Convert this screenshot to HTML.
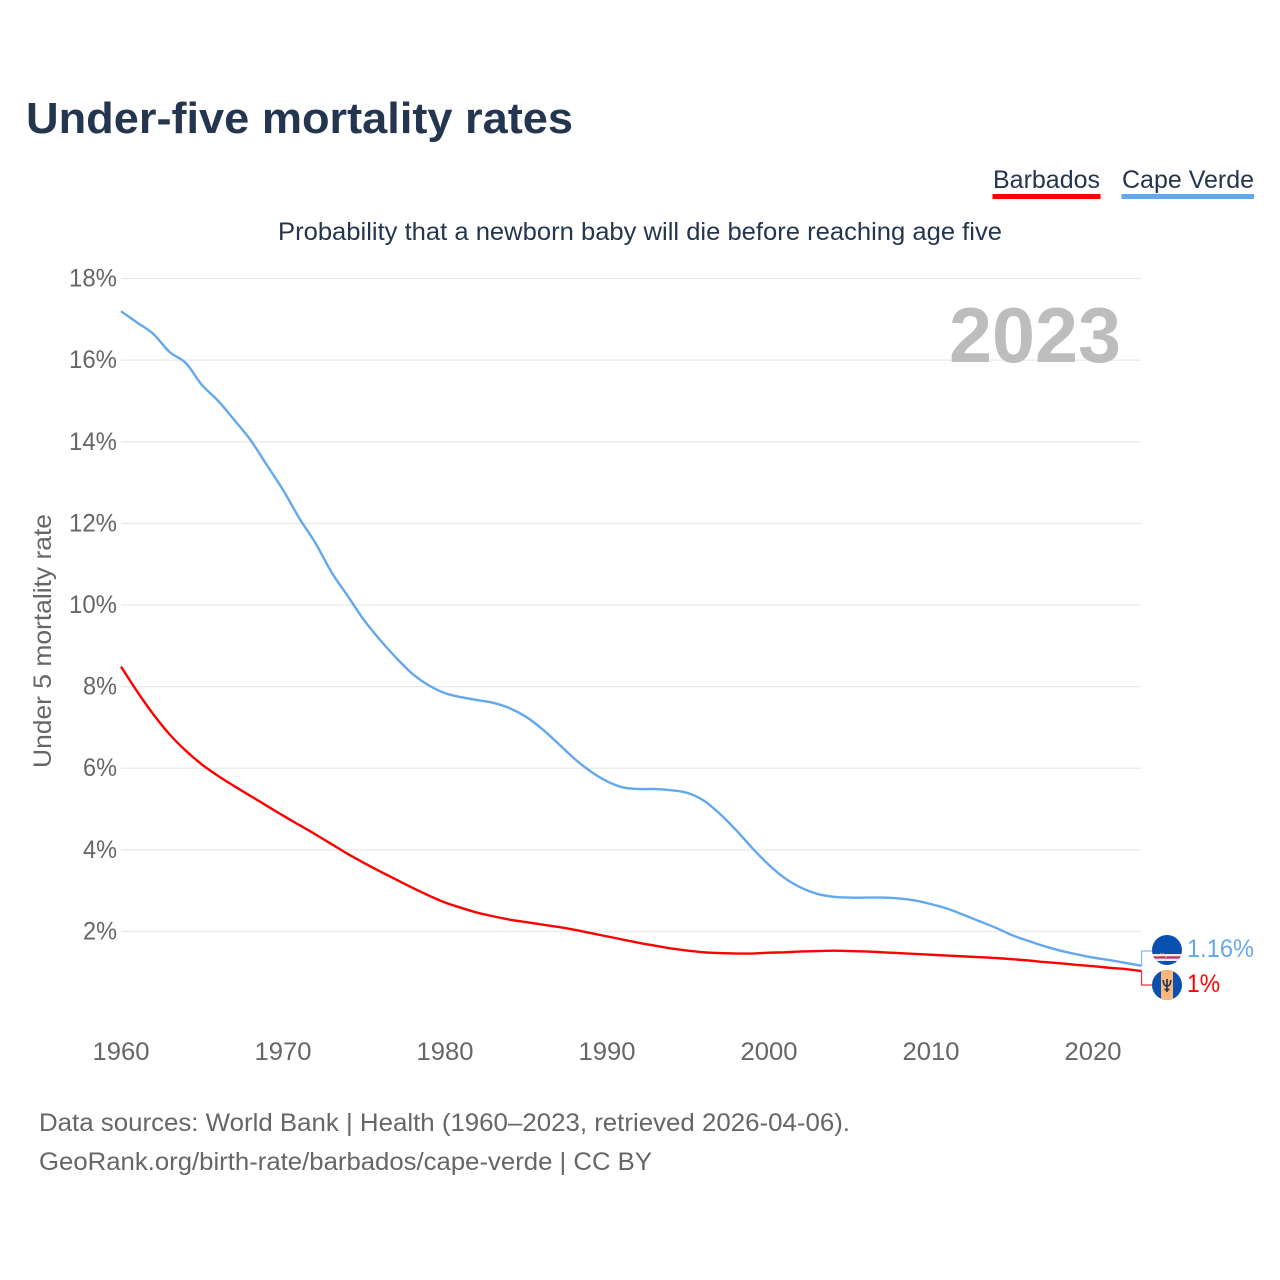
<!DOCTYPE html>
<html>
<head>
<meta charset="utf-8">
<title>Under-five mortality rates</title>
<style>
html,body{margin:0;padding:0;background:#fff;}
svg{display:block;font-family:"Liberation Sans",sans-serif;}
</style>
</head>
<body>
<svg id="chart" xmlns="http://www.w3.org/2000/svg" width="1280" height="1280" viewBox="0 0 1280 1280">
  <rect width="1280" height="1280" fill="#fff"/>
  <text x="26" y="133" font-size="44" font-weight="700" fill="#24364f" textLength="547" lengthAdjust="spacingAndGlyphs">Under-five mortality rates</text>
  <text x="993" y="188" font-size="25" fill="#24364f" textLength="107" lengthAdjust="spacingAndGlyphs">Barbados</text>
  <rect x="992.5" y="194" width="108" height="5" fill="#ff0000"/>
  <text x="1122" y="188" font-size="25" fill="#24364f" textLength="132" lengthAdjust="spacingAndGlyphs">Cape Verde</text>
  <rect x="1121.5" y="194" width="132.5" height="5" fill="#63a8ed"/>
  <text x="278" y="240" font-size="25" fill="#24364f" textLength="724" lengthAdjust="spacingAndGlyphs">Probability that a newborn baby will die before reaching age five</text>
  <g id="grid"></g>
  <g id="yticks"></g>
  <g id="xticks"></g>
  <text x="949" y="362" font-size="78" font-weight="700" fill="#bdbdbd" textLength="172" lengthAdjust="spacingAndGlyphs">2023</text>
  <text transform="translate(51,768) rotate(-90)" font-size="25" fill="#666" textLength="254" lengthAdjust="spacingAndGlyphs">Under 5 mortality rate</text>
  <g id="series"></g>

  <path id="conn-cv" fill="none" stroke="#63a8ed" stroke-width="1.2" opacity="0.8"/>
  <path id="conn-bb" fill="none" stroke="#ff0000" stroke-width="1.2" opacity="0.8"/>

  <g>
    <clipPath id="clip-cv"><circle cx="1167" cy="950" r="15"/></clipPath>
    <g clip-path="url(#clip-cv)">
      <rect x="1150" y="933" width="34" height="34" fill="#0a50b0"/>
      <rect x="1150" y="954" width="34" height="2.4" fill="#e8edf5"/>
      <rect x="1150" y="956.4" width="34" height="2.2" fill="#e8203a"/>
      <rect x="1150" y="958.6" width="34" height="2.4" fill="#e8edf5"/>
      <circle cx="1162" cy="957" r="4" fill="none" stroke="#f0d060" stroke-width="0.8" stroke-dasharray="1 1.4"/>
    </g>
  </g>
  <g>
    <clipPath id="clip-bb"><circle cx="1167" cy="985" r="15"/></clipPath>
    <g clip-path="url(#clip-bb)">
      <rect x="1150" y="968" width="34" height="34" fill="#0a50b0"/>
      <rect x="1161" y="968" width="12" height="34" fill="#fdb77a"/>
      <path d="M1163.2 980 C1163.5 985 1165 986 1167 986 C1169 986 1170.5 985 1170.8 980 M1167 979 V992 M1164.5 989.5 H1169.5" fill="none" stroke="#24364f" stroke-width="1.7"/>
    </g>
  </g>
  <text x="1187" y="957" font-size="25" fill="#63a8ed" textLength="67" lengthAdjust="spacingAndGlyphs">1.16%</text>
  <text x="1187" y="992" font-size="25" fill="#ff0000" textLength="33" lengthAdjust="spacingAndGlyphs">1%</text>
  <text x="39" y="1131" font-size="25" fill="#666" textLength="811" lengthAdjust="spacingAndGlyphs">Data sources: World Bank | Health (1960–2023, retrieved 2026-04-06).</text>
  <text x="39" y="1170" font-size="25" fill="#666" textLength="613" lengthAdjust="spacingAndGlyphs">GeoRank.org/birth-rate/barbados/cape-verde | CC BY</text>
</svg>
<script>
const startYear = 1960;
const yTicks = [2, 4, 6, 8, 10, 12, 14, 16, 18];
const xTicks = [1960, 1970, 1980, 1990, 2000, 2010, 2020];
const capeVerde = [17.2,16.92,16.64,16.2,15.93,15.39,15.0,14.53,14.04,13.43,12.82,12.13,11.52,10.8,10.22,9.63,9.14,8.7,8.31,8.03,7.84,7.74,7.67,7.6,7.47,7.26,6.96,6.6,6.23,5.92,5.68,5.53,5.49,5.49,5.46,5.39,5.2,4.87,4.47,4.03,3.63,3.3,3.07,2.92,2.85,2.83,2.83,2.83,2.81,2.76,2.67,2.56,2.41,2.25,2.09,1.91,1.77,1.64,1.53,1.44,1.36,1.3,1.23,1.16];
const barbados = [8.49,7.88,7.32,6.83,6.43,6.09,5.81,5.56,5.32,5.08,4.84,4.61,4.38,4.14,3.9,3.68,3.47,3.27,3.07,2.88,2.71,2.58,2.46,2.37,2.29,2.23,2.17,2.11,2.04,1.96,1.88,1.8,1.72,1.65,1.58,1.53,1.49,1.47,1.46,1.46,1.48,1.49,1.51,1.52,1.53,1.52,1.51,1.49,1.47,1.45,1.43,1.41,1.39,1.37,1.35,1.32,1.29,1.25,1.22,1.18,1.15,1.11,1.08,1.03];

const NS = 'http://www.w3.org/2000/svg';
function xScale(year) { return 121 + (year - 1960) * 16.2; }
function yScale(v) { return 1013.1 - v * 40.81; }
function make(tag, attrs, parent, txt) {
  const el = document.createElementNS(NS, tag);
  for (const k in attrs) el.setAttribute(k, attrs[k]);
  if (txt !== undefined) el.textContent = txt;
  parent.appendChild(el);
  return el;
}
const gridG = document.getElementById('grid');
const yG = document.getElementById('yticks');
const xG = document.getElementById('xticks');
const seriesG = document.getElementById('series');

yTicks.forEach(function (t) {
  const y = yScale(t);
  const line = make('line', {x1: 121, x2: 1141, y1: y, y2: y, stroke: '#e9e9e9', 'stroke-width': 1.3}, gridG);
  
  
  const label = t + '%';
  const w = t >= 10 ? 48 : 34;
  const tx = make('text', {x: 117 - w, y: y + 8, 'font-size': 25, fill: '#666', textLength: w, lengthAdjust: 'spacingAndGlyphs'}, yG, label);
  
  
});
xTicks.forEach(function (t) {
  const tx = make('text', {x: xScale(t) - 28.5, y: 1060, 'font-size': 25, fill: '#666', textLength: 57, lengthAdjust: 'spacingAndGlyphs'}, xG, String(t));
  
  
});
function linePath(values) {
  const pts = values.map(function (v, i) { return [xScale(startYear + i), yScale(v)]; });
  let d = 'M' + pts[0][0].toFixed(2) + ' ' + pts[0][1].toFixed(2);
  for (let i = 0; i < pts.length - 1; i++) {
    const p0 = pts[Math.max(i - 1, 0)];
    const p1 = pts[i];
    const p2 = pts[i + 1];
    const p3 = pts[Math.min(i + 2, pts.length - 1)];
    d += ' C' + (p1[0] + (p2[0] - p0[0]) / 6).toFixed(2) + ' ' + (p1[1] + (p2[1] - p0[1]) / 6).toFixed(2) +
         ' ' + (p2[0] - (p3[0] - p1[0]) / 6).toFixed(2) + ' ' + (p2[1] - (p3[1] - p1[1]) / 6).toFixed(2) +
         ' ' + p2[0].toFixed(2) + ' ' + p2[1].toFixed(2);
  }
  return d;
}
const cvLine = make('path', {d: linePath(capeVerde), fill: 'none', stroke: '#63a8ed', 'stroke-width': 2.4, 'stroke-linejoin': 'round'}, seriesG);


const bbLine = make('path', {d: linePath(barbados), fill: 'none', stroke: '#ff0000', 'stroke-width': 2.4, 'stroke-linejoin': 'round'}, seriesG);



const endX = xScale(startYear + capeVerde.length - 1);
document.getElementById('conn-cv').setAttribute('d', 'M' + endX + ' ' + yScale(capeVerde[capeVerde.length - 1]) + ' V951 H1152');
document.getElementById('conn-bb').setAttribute('d', 'M' + endX + ' ' + yScale(barbados[barbados.length - 1]) + ' V985 H1152');
</script>
</body>
</html>
